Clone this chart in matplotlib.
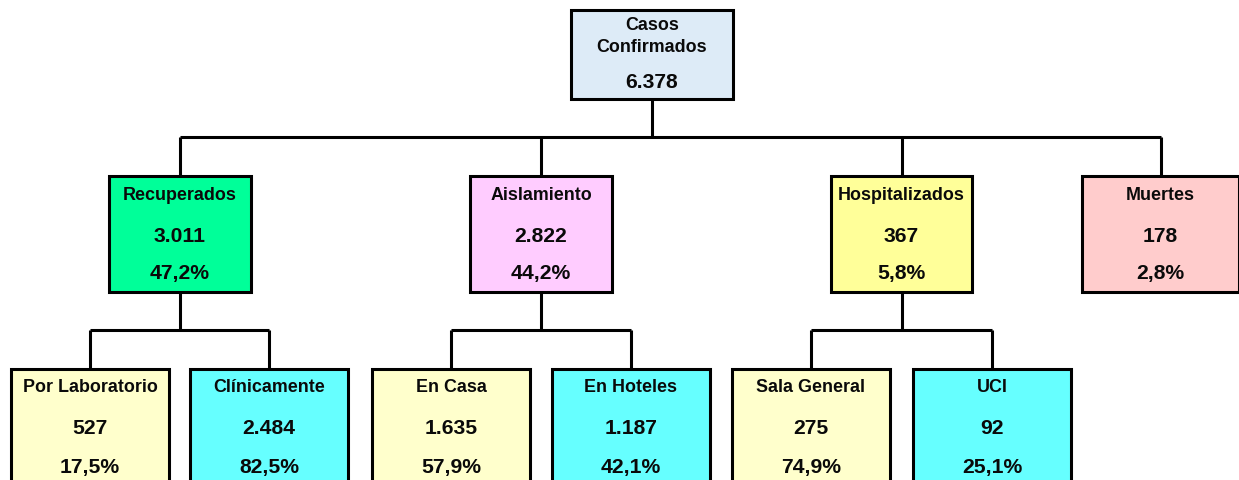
import matplotlib.pyplot as plt
from matplotlib.patches import Rectangle

# ---------------------------------------------------------------
# data
root_lines = ["Casos", "Confirmados"]
root_value = 6378

group_names = ["Recuperados", "Aislamiento", "Hospitalizados", "Muertes"]
group_values = [3011, 2822, 367, 178]
group_pcts = [47.2, 44.2, 5.8, 2.8]

sub_names = [["Por Laboratorio", "Clínicamente"],
             ["En Casa", "En Hoteles"],
             ["Sala General", "UCI"],
             []]
sub_values = [[527, 2484], [1635, 1187], [275, 92], []]
sub_pcts = [[17.5, 82.5], [57.9, 42.1], [74.9, 25.1], []]

# ---------------------------------------------------------------
# layout (pixel coordinates, y downwards)
W, H, DPI = 1239, 480, 100
LW = 2.2
FONT = "Liberation Sans"
LABEL_FS = 12.9
NUM_FS = 15.2

root_box = (571, 10, 162, 89)
group_left = [109, 470, 831, 1082]
group_width = [142, 142, 141, 157]
group_top, group_h = 176, 116
sub_left = [[11, 190], [372, 552], [732, 913], []]
sub_w, sub_top, sub_h = 158, 369, 130
bar1_y = 137
bar2_y = 330

group_colors = ["#00FF99", "#FFCCFF", "#FFFF99", "#FFCCCC"]
sub_colors = ["#FFFFCC", "#66FFFF"]
root_color = "#DDEBF7"


def fmt_int(v):
    return f"{v:,}".replace(",", ".")


def fmt_pct(p):
    return f"{p:.1f}%".replace(".", ",")


def draw_box(ax, x, y, w, h, color):
    ax.add_patch(Rectangle((x, y), w, h, facecolor=color, edgecolor="black",
                           linewidth=LW, joinstyle="miter", zorder=2))


def put(ax, x, y, s, fs):
    ax.text(x, y, s, ha="center", va="center", fontsize=fs,
            fontweight="bold", family=FONT, color="#0a0a0a", zorder=3)


def line(ax, xs, ys):
    ax.plot(xs, ys, color="black", linewidth=LW, solid_capstyle="butt", zorder=1)


fig = plt.figure(figsize=(W / DPI, H / DPI), dpi=DPI)
ax = fig.add_axes([0, 0, 1, 1])
ax.set_xlim(0, W)
ax.set_ylim(H, 0)
ax.axis("off")

# root box
rx, ry, rw, rh = root_box
draw_box(ax, rx, ry, rw, rh, root_color)
rcx = rx + rw / 2
put(ax, rcx, 25, root_lines[0], LABEL_FS)
put(ax, rcx, 47, root_lines[1], LABEL_FS)
put(ax, rcx, 82, fmt_int(root_value), NUM_FS)

# connectors root -> groups
centers = [l + w / 2 for l, w in zip(group_left, group_width)]
line(ax, [rcx, rcx], [ry + rh, bar1_y])
line(ax, [centers[0], centers[-1]], [bar1_y, bar1_y])
for cx in centers:
    line(ax, [cx, cx], [bar1_y, group_top])

# group boxes and children
for i, name in enumerate(group_names):
    gx, gw = group_left[i], group_width[i]
    cx = centers[i]
    draw_box(ax, gx, group_top, gw, group_h, group_colors[i])
    put(ax, cx, 196, name, LABEL_FS)
    put(ax, cx, 237, fmt_int(group_values[i]), NUM_FS)
    put(ax, cx, 274, fmt_pct(group_pcts[i]), NUM_FS)

    if not sub_names[i]:
        continue
    sub_centers = [l + sub_w / 2 for l in sub_left[i]]
    line(ax, [cx, cx], [group_top + group_h, bar2_y])
    line(ax, [sub_centers[0], sub_centers[-1]], [bar2_y, bar2_y])
    for j, sname in enumerate(sub_names[i]):
        sx = sub_left[i][j]
        scx = sub_centers[j]
        line(ax, [scx, scx], [bar2_y, sub_top])
        draw_box(ax, sx, sub_top, sub_w, sub_h, sub_colors[j])
        put(ax, scx, 388, sname, LABEL_FS)
        put(ax, scx, 429, fmt_int(sub_values[i][j]), NUM_FS)
        put(ax, scx, 467, fmt_pct(sub_pcts[i][j]), NUM_FS)

fig.savefig("out.png", dpi=DPI)
plt.close(fig)
